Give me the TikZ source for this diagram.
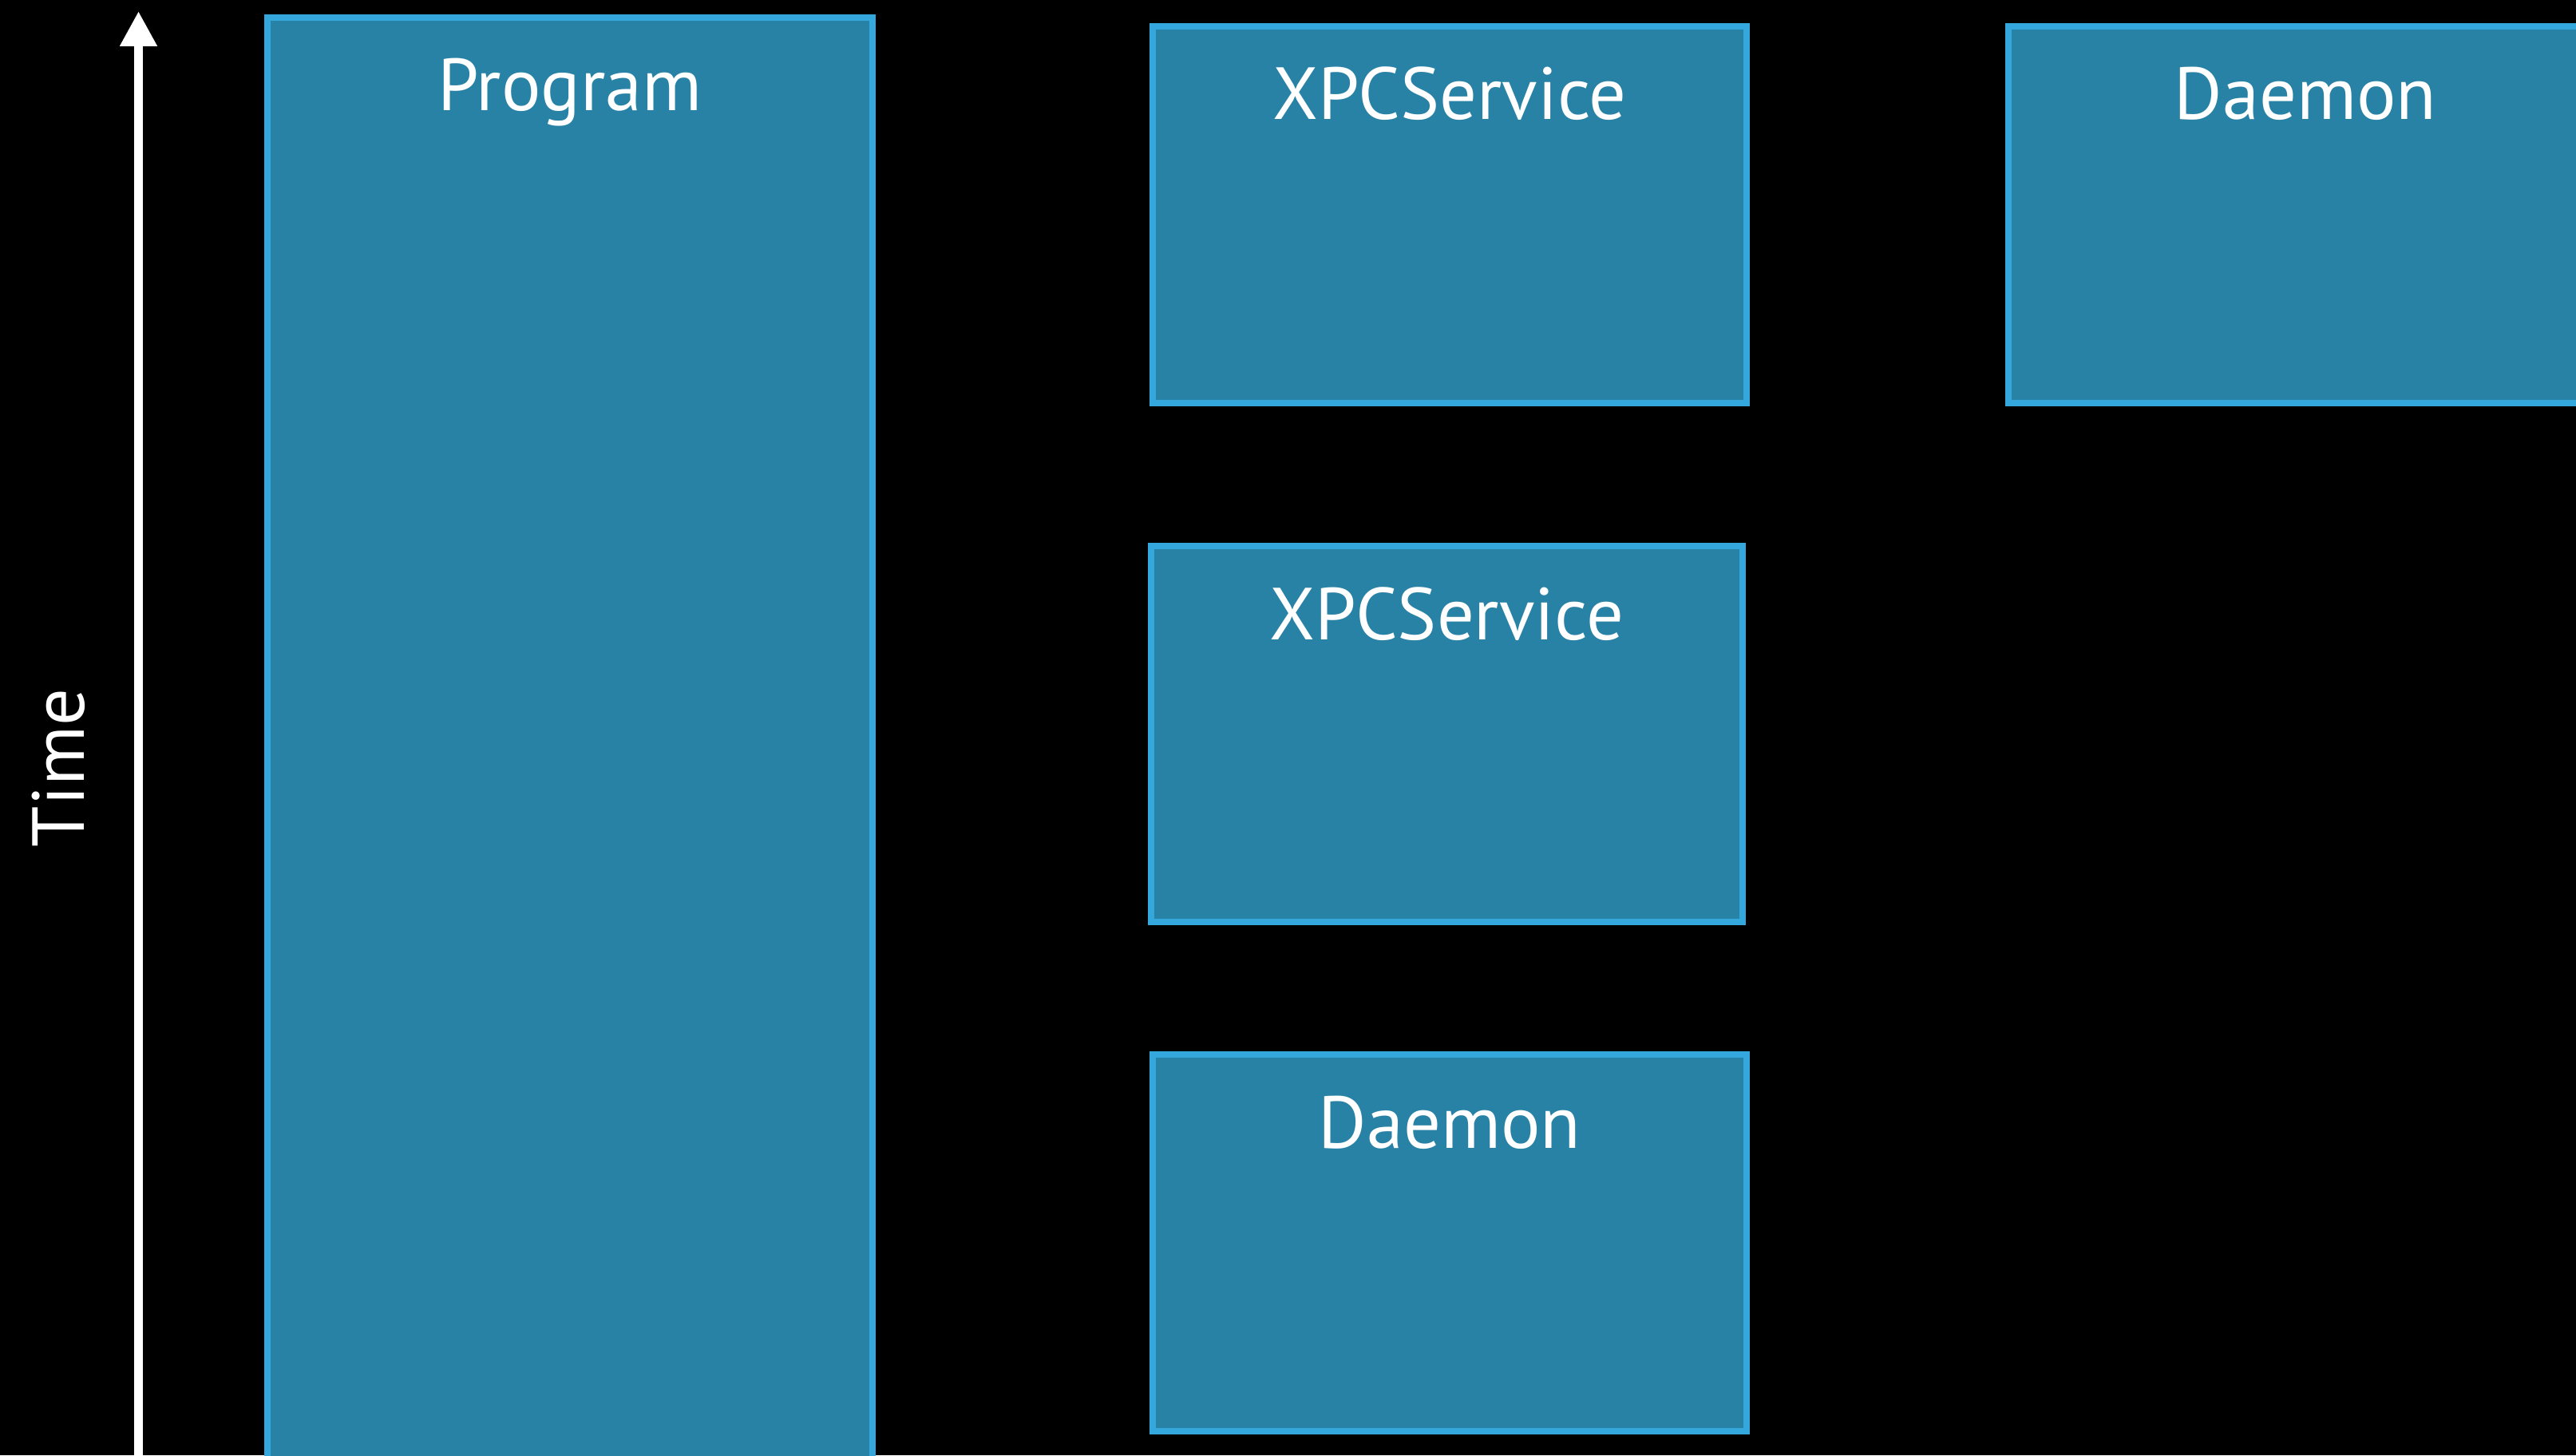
\documentclass[tikz,border=0pt]{standalone}
\usepackage{fontspec}
\setmainfont{PT Sans}
\usepackage{tikz}
\usetikzlibrary{calc,positioning,arrows.meta}

\definecolor{boxfill}{RGB}{40,130,166}
\definecolor{boxline}{RGB}{52,168,220}

\tikzset{
	procbox/.style={draw=boxline,fill=boxfill,line width=0.08cm,inner sep=0,outer sep=0,anchor=north west,minimum width=7.44cm,minimum height=4.72cm},
	proclabel/.style={text=white,anchor=base,font=\fontsize{26.3}{30}\selectfont},
	timeline/.style={white,line width=0.11cm,-{Triangle[length=0.44cm,width=0.44cm]}}
}

\begin{document}
\begin{tikzpicture}
		\fill[black] (0,0) rectangle (32.27,18.23);
		\useasboundingbox (0,0) rectangle (32.27,18.23);
		\clip (0,0) rectangle (32.27,18.23);
		\begin{scope}
			% time axis
			\coordinate (tbot) at (1.735,-0.5);
			\coordinate (ttop) at (1.735,18.09);
			\draw[timeline] (tbot) -- (ttop);
			\node(time) [proclabel,rotate=90] at (1.05,8.61) {Time};
			% processes
			\node(prog) [procbox,minimum width=7.58cm,minimum height=18.8cm] at (3.35,18.01) {};
			\node(xpcA) [procbox] at (14.44,17.90) {};
			\node(daemA) [procbox] at (25.16,17.90) {};
			\node(xpcB) [procbox,minimum width=7.41cm,minimum height=4.71cm] at (14.42,11.39) {};
			\node(daemB) [procbox] at (14.44,5.02) {};
			\node(progT) [proclabel] at ($(prog.north)+(0,-1.17)$) {Program};
			\node(xpcAT) [proclabel] at ($(xpcA.north)+(0,-1.17)$) {XPCService};
			\node(daemAT) [proclabel] at ($(daemA.north)+(0,-1.17)$) {Daemon};
			\node(xpcBT) [proclabel] at ($(xpcB.north)+(0,-1.17)$) {XPCService};
			\node(daemBT) [proclabel] at ($(daemB.north)+(0,-1.17)$) {Daemon};
		\end{scope}
	\end{tikzpicture}
\end{document}
